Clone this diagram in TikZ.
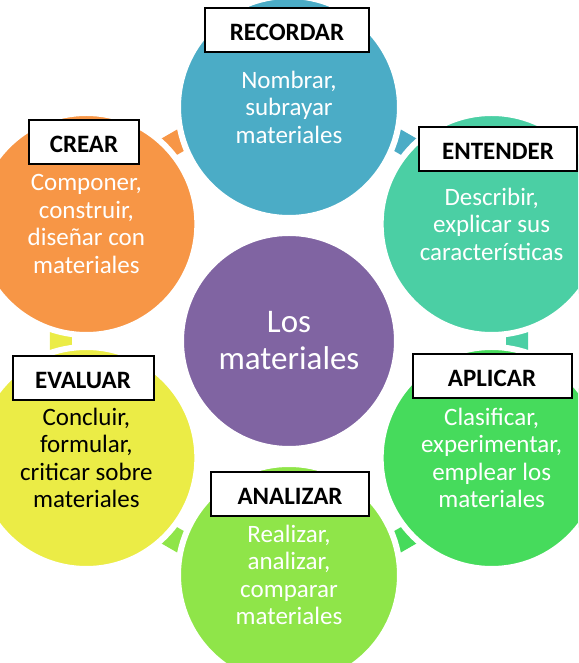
\documentclass[tikz,border=0pt]{standalone}
\usepackage{fontspec}
\setmainfont{Carlito}
\usetikzlibrary{calc}

\definecolor{cRecordar}{HTML}{4BACC6}
\definecolor{cEntender}{HTML}{4BCFA4}
\definecolor{cAplicar}{HTML}{46DB5C}
\definecolor{cAnalizar}{HTML}{8FE549}
\definecolor{cEvaluar}{HTML}{EBEC46}
\definecolor{cCrear}{HTML}{F79646}
\definecolor{cCentro}{HTML}{8064A2}

\begin{document}
\begin{tikzpicture}[
      x=1pt, y=1pt,
      circulo/.style={circle, draw=white, line width=6pt, minimum size=222pt,
        inner sep=0pt, text=white, align=center,
        font=\fontsize{25}{27.5}\selectfont},
      etiqueta/.style={rectangle, draw=black, line width=2pt, fill=white,
        minimum height=44pt, inner sep=0pt, text height=22pt, text depth=0pt,
        font=\fontsize{25}{28}\selectfont\bfseries}
    ]
    \useasboundingbox (0,0) rectangle (578,663);
    \clip (0,0) rectangle (578,663);
    \coordinate (c) at (289,322);

    % Flechas del ciclo
    \begin{scope}[shift={(c)}]
      \fill[cCrear]    (115:218) -- (125:218) -- (125:240) -- (115:240) -- cycle;
      \fill[cRecordar] (55:218)  -- (65:218)  -- (65:240)  -- (55:240)  -- cycle;
      \fill[cEntender] (-5:218)  -- (5:218)   -- (5:240)   -- (-5:240)  -- cycle;
      \fill[cAplicar]  (-65:218) -- (-55:218) -- (-55:240) -- (-65:240) -- cycle;
      \fill[cAnalizar] (-125:218) -- (-115:218) -- (-115:240) -- (-125:240) -- cycle;
      \fill[cEvaluar]  (175:218) -- (185:218) -- (185:240) -- (175:240) -- cycle;
    \end{scope}

    % Circulos
    \node[circulo, fill=cCentro, minimum size=216pt,
      font=\fontsize{33}{37}\selectfont] (centro) at (c) {Los\\materiales};
    \node[circulo, fill=cRecordar] (recordar) at ($(c)+(90:234)$)
      {Nombrar,\\subrayar\\materiales};
    \node[circulo, fill=cEntender] (entender) at ($(c)+(30:234)$)
      {Describir,\\explicar sus\\características};
    \node[circulo, fill=cAplicar] (aplicar) at ($(c)+(-30:234)$)
      {Clasificar,\\experimentar,\\emplear los\\materiales};
    \node[circulo, fill=cAnalizar] (analizar) at ($(c)+(-90:234)$)
      {Realizar,\\analizar,\\comparar\\materiales};
    \node[circulo, fill=cEvaluar, text=black] (evaluar) at ($(c)+(210:234)$)
      {Concluir,\\formular,\\criticar sobre\\materiales};
    \node[circulo, fill=cCrear] (crear) at ($(c)+(150:234)$)
      {Componer,\\construir,\\diseñar con\\materiales};

    % Etiquetas
    \node[etiqueta, minimum width=164pt] (lRecordar) at (287,633) {RECORDAR};
    \node[etiqueta, minimum width=158pt] (lEntender) at (498,514) {ENTENDER};
    \node[etiqueta, minimum width=159pt] (lAplicar) at (492,287) {APLICAR};
    \node[etiqueta, minimum width=158pt] (lAnalizar) at (290,169) {ANALIZAR};
    \node[etiqueta, minimum width=141pt] (lEvaluar) at (83,285) {EVALUAR};
    \node[etiqueta, minimum width=110pt] (lCrear) at (84,521) {CREAR};
  \end{tikzpicture}
\end{document}
